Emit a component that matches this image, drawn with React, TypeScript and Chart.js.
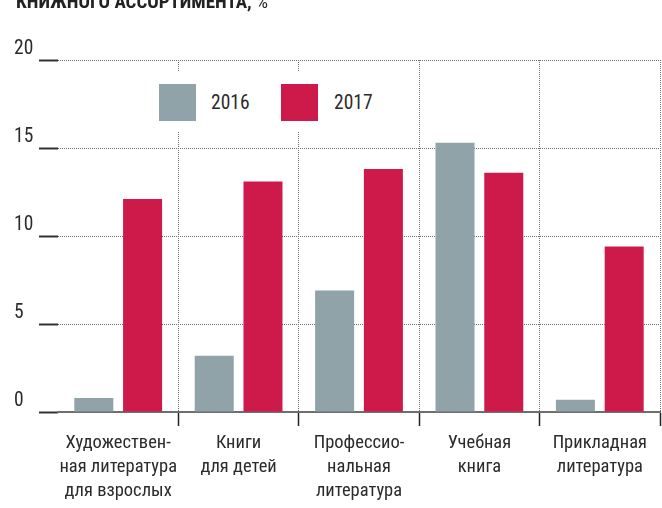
import React, { useEffect, useRef } from 'react';
import { Chart, registerables } from 'chart.js';

Chart.register(...registerables);

const titleText = 'КНИЖНОГО АССОРТИМЕНТА,';
const titleUnit = '%';
const categories: string[][] = [
  ['Художествен-', 'ная литература', 'для взрослых'],
  ['Книги', 'для детей'],
  ['Профессио-', 'нальная', 'литература'],
  ['Учебная', 'книга'],
  ['Прикладная', 'литература'],
];
const seriesLabels = ['2016', '2017'];
const values2016 = [0.8, 3.2, 6.9, 15.3, 0.7];
const values2017 = [12.1, 13.1, 13.8, 13.6, 9.4];
const yMin = 0;
const yMax = 20;
const yStep = 5;

const GRAY = '#8fa3a9';
const RED = '#ce1a4a';
const TEXT = '#2b2b2b';
const FONT = 'Roboto';

export default function App() {
  const canvasRef = useRef<HTMLCanvasElement | null>(null);

  useEffect(() => {
    document.body.style.margin = '0';
    const canvas = canvasRef.current;
    if (!canvas) return;
    const chart = new Chart(canvas, {
      type: 'bar',
      data: {
        labels: categories,
        datasets: [
          {
            label: seriesLabels[0],
            data: values2016,
            backgroundColor: GRAY,
            categoryPercentage: 0.81,
            barPercentage: 0.8,
          },
          {
            label: seriesLabels[1],
            data: values2017,
            backgroundColor: RED,
            categoryPercentage: 0.81,
            barPercentage: 0.8,
          },
        ],
      },
      options: {
        responsive: false,
        animation: false,
        devicePixelRatio: 1,
        layout: { padding: { left: 14, top: 60, right: 2, bottom: 0 } },
        plugins: {
          legend: { display: false },
          tooltip: { enabled: false },
          title: { display: false },
        },
        scales: {
          x: {
            offset: true,
            grid: {
              offset: true,
              color: (ctx: any) =>
                ctx.index === 0 || ctx.index >= categories.length ? 'rgba(0,0,0,0)' : '#6f6f6f',
              lineWidth: 1,
              tickColor: (ctx: any) =>
                ctx.index === 0 || ctx.index >= categories.length ? 'rgba(0,0,0,0)' : '#222',
              tickWidth: 1.5,
              tickLength: 14,
              tickBorderDash: [],
            },
            border: { display: true, color: '#6e6e6e', width: 2, dash: [1, 1] },
            ticks: {
              autoSkip: false,
              maxRotation: 0,
              minRotation: 0,
              padding: 5,
              color: TEXT,
              font: { family: FONT, weight: 'condensed', size: 18.5, lineHeight: 24 / 18.5 },
            },
          },
          y: {
            min: yMin,
            max: yMax,
            afterFit: (scale: any) => {
              scale.width = 44;
            },
            grid: {
              color: (ctx: any) =>
                ctx.tick && ctx.tick.value === yMin ? 'rgba(0,0,0,0)' : '#6f6f6f',
              lineWidth: 1,
              tickColor: '#333',
              tickWidth: 2,
              tickLength: 19,
              tickBorderDash: [],
            },
            border: { display: false, dash: [1, 1] },
            ticks: {
              stepSize: yStep,
              crossAlign: 'far',
              padding: 4,
              color: TEXT,
              font: { family: FONT, weight: 'condensed', size: 19.5, lineHeight: 22 / 19.5 },
              callback: (v: any) => [String(v), ''],
            },
          },
        },
      } as any,
    });
    return () => chart.destroy();
  }, []);

  const legendText: React.CSSProperties = {
    position: 'absolute',
    fontFamily: FONT,
    fontStretch: 'condensed',
    fontSize: 19.5,
    lineHeight: '20px',
    color: TEXT,
  };

  return (
    <div style={{ position: 'relative', width: 662, height: 508, overflow: 'hidden', background: '#fff' }}>
      <canvas ref={canvasRef} width={662} height={508} style={{ display: 'block' }} />
      <div
        style={{
          position: 'absolute',
          left: 16,
          top: -8,
          fontFamily: FONT,
          fontStretch: 'condensed',
          fontSize: 19,
          lineHeight: '19px',
          fontWeight: 700,
          color: '#222',
          whiteSpace: 'nowrap',
        }}
      >
        {titleText} <span style={{ fontWeight: 400 }}>{titleUnit}</span>
      </div>
      <div style={{ position: 'absolute', left: 150, top: 72, width: 240, height: 60, background: '#fff' }} />
      <div style={{ position: 'absolute', left: 159, top: 84, width: 37, height: 37, background: GRAY }} />
      <div style={{ ...legendText, left: 211, top: 93 }}>{seriesLabels[0]}</div>
      <div style={{ position: 'absolute', left: 281, top: 84, width: 37, height: 37, background: RED }} />
      <div style={{ ...legendText, left: 334, top: 93 }}>{seriesLabels[1]}</div>
    </div>
  );
}
